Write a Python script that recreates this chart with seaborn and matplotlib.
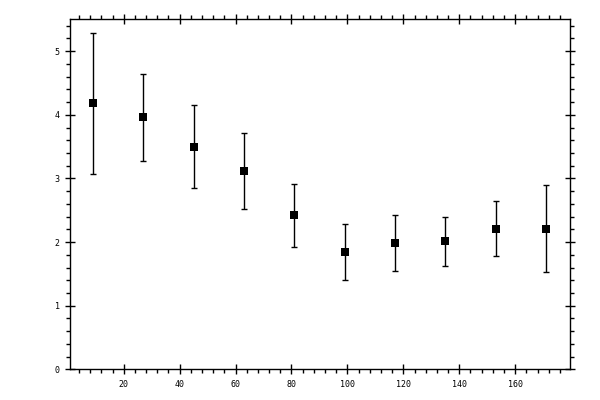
import matplotlib
matplotlib.use('Agg')
import matplotlib.pyplot as plt
import seaborn as sns
import pandas as pd
from matplotlib.ticker import MultipleLocator

# values
x_vals = [9, 27, 45, 63, 81, 99, 117, 135, 153, 171]
y_vals = [4.18, 3.96, 3.50, 3.12, 2.42, 1.85, 1.99, 2.01, 2.21, 2.21]
y_err = [1.11, 0.68, 0.65, 0.60, 0.50, 0.44, 0.44, 0.39, 0.43, 0.68]

data = pd.DataFrame({'x': x_vals, 'y': y_vals, 'err': y_err})

sns.set_theme(style="ticks")
plt.rcParams['font.family'] = ['DejaVu Sans Mono', 'DejaVu Sans']

fig = plt.figure(figsize=(6, 4), dpi=100)
ax = fig.add_axes([0.1167, 0.0767, 0.8333, 0.8750])

ax.errorbar(data['x'], data['y'], yerr=data['err'], fmt='none',
            ecolor='black', elinewidth=1, capsize=2.2, capthick=1, zorder=2)
sns.scatterplot(data=data, x='x', y='y', marker='s', s=36, color='black',
                edgecolor='black', linewidth=0, ax=ax, zorder=3)

ax.set_xlim(0.8, 179.6)
ax.set_ylim(0, 5.5)
ax.set_xlabel('')
ax.set_ylabel('')

ax.xaxis.set_major_locator(MultipleLocator(20))
ax.xaxis.set_minor_locator(MultipleLocator(4))
ax.yaxis.set_major_locator(MultipleLocator(1))
ax.yaxis.set_minor_locator(MultipleLocator(0.2))

for side in ['top', 'right', 'bottom', 'left']:
    ax.spines[side].set_visible(True)
    ax.spines[side].set_linewidth(1)
    ax.spines[side].set_color('black')

ax.tick_params(which='major', direction='inout', length=7, width=1,
               top=True, right=True, labelsize=6, colors='black', pad=4)
ax.tick_params(which='minor', direction='out', length=3, width=1,
               top=True, right=True, colors='black')

fig.savefig('out.png', dpi=100)
